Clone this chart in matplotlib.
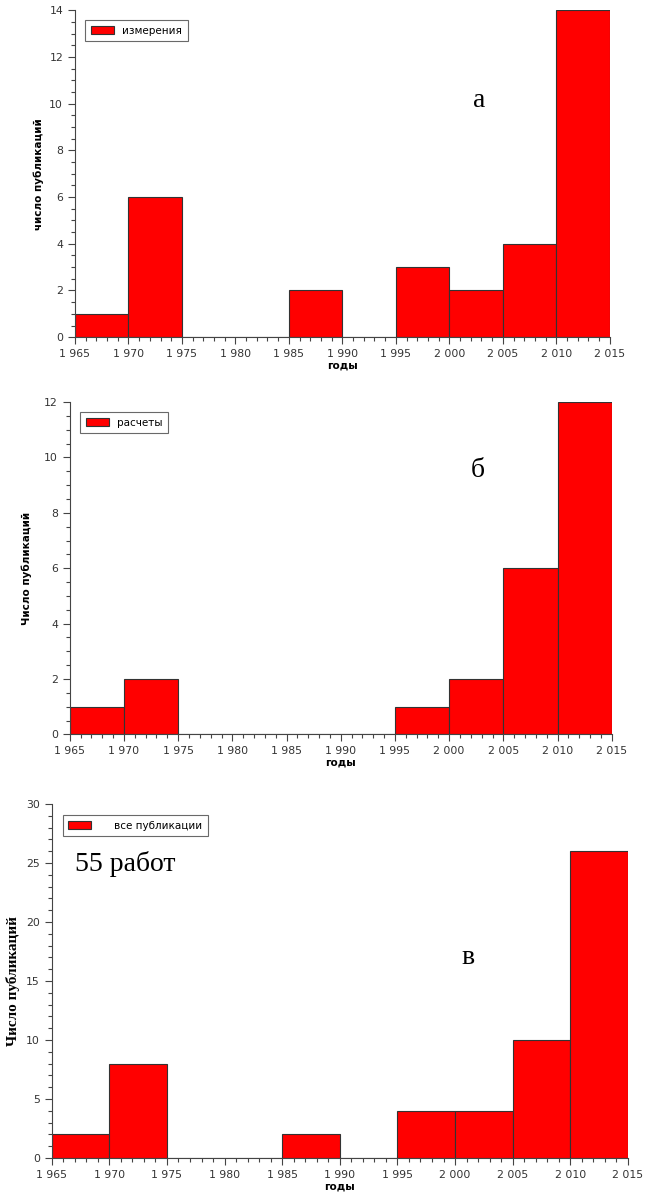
import numpy as np
import matplotlib.pyplot as plt
from matplotlib.ticker import MultipleLocator

edges = [1965, 1970, 1975, 1980, 1985, 1990, 1995, 2000, 2005, 2010, 2015]
izmereniya = [1, 6, 0, 0, 2, 0, 3, 2, 4, 14]
raschety = [1, 2, 0, 0, 0, 0, 1, 2, 6, 12]
vse = [2, 8, 0, 0, 2, 0, 4, 4, 10, 26]
xtick_labels = ["1 965", "1 970", "1 975", "1 980", "1 985", "1 990",
                "1 995", "2 000", "2 005", "2 010", "2 015"]

fig = plt.figure(figsize=(6.46, 12), dpi=100)


def draw_panel(rect, counts, legend_text, ymax, ymajor, yminor, letter, letter_pos,
               ylabel_kw, leg_anchor, text_pad=0.8):
    ax = fig.add_axes(rect)
    left = np.array(edges[:-1])
    widths = np.diff(edges)
    ax.bar(left, counts, width=widths, align='edge', color='#ff0000',
           edgecolor='#333333', linewidth=0.8, label=legend_text)
    ax.set_xlim(edges[0], edges[-1])
    ax.set_ylim(0, ymax)
    ax.set_xticks(edges)
    ax.set_xticklabels(xtick_labels, fontsize=7.8, color='#333333')
    ax.xaxis.set_minor_locator(MultipleLocator(1))
    ax.yaxis.set_major_locator(MultipleLocator(ymajor))
    ax.yaxis.set_minor_locator(MultipleLocator(yminor))
    ax.tick_params(axis='y', labelsize=7.8, colors='#333333')
    ax.tick_params(which='major', length=5, width=0.8, color='#444444')
    ax.tick_params(which='minor', length=3, width=0.8, color='#444444')
    for s in ['top', 'right']:
        ax.spines[s].set_visible(False)
    for s in ['left', 'bottom']:
        ax.spines[s].set_color('#444444')
    ax.set_xlabel("годы", fontsize=7.5, fontweight='bold', labelpad=1)
    ax.set_ylabel(**ylabel_kw)
    leg = ax.legend(loc='upper left', bbox_to_anchor=leg_anchor, fontsize=7.5,
                    frameon=True, fancybox=False, edgecolor='#444444',
                    handlelength=2.2, handleheight=0.9, borderpad=0.55,
                    borderaxespad=0, handletextpad=text_pad)
    leg.get_frame().set_linewidth(0.8)
    ax.text(letter_pos[0], letter_pos[1], letter, transform=ax.transAxes,
            fontsize=20, family='Liberation Serif', ha='center', va='center')
    return ax


draw_panel([0.116, 0.719, 0.828, 0.2725], izmereniya, "измерения", 14, 2, 0.5,
           "а", (0.755, 0.725),
           dict(ylabel="число публикаций", fontsize=7.5, fontweight='bold', labelpad=4),
           (0.019, 0.97))

draw_panel([0.108, 0.388, 0.839, 0.277], raschety, "расчеты", 12, 2, 0.5,
           "б", (0.752, 0.795),
           dict(ylabel="Число публикаций", fontsize=7.5, fontweight='bold', labelpad=9),
           (0.019, 0.97))

ax3 = draw_panel([0.080, 0.035, 0.892, 0.295], vse, "все публикации", 30, 5, 1,
                 "в", (0.722, 0.565),
                 dict(ylabel="Число публикаций", fontsize=11, fontweight='bold',
                      family='Liberation Serif', labelpad=4),
                 (0.019, 0.969), text_pad=2.2)
ax3.text(0.04, 0.83, "55 работ", transform=ax3.transAxes, fontsize=20,
         family='Liberation Serif', ha='left', va='center')

fig.savefig("out.png", dpi=100)
